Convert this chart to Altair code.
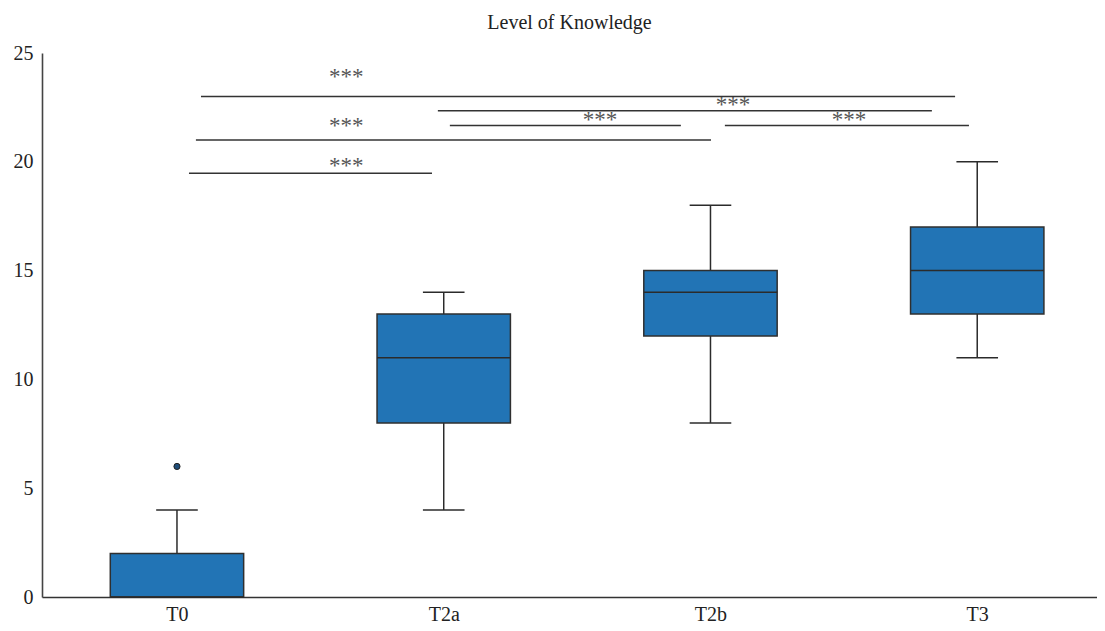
import altair as alt
import pandas as pd

# ---- data ----
groups = ["T0", "T2a", "T2b", "T3"]
lower = [0, 4, 8, 11]
q1 = [0, 8, 12, 13]
median = [0, 11, 14, 15]
q3 = [2, 13, 15, 17]
upper = [4, 14, 18, 20]

outlier_group = [0]
outlier_value = [6]

# significance brackets (x in category units, y in data units)
sig_x1 = [0.09, 0.978, 1.023, 2.054, 0.071, 0.045]
sig_x2 = [2.917, 2.830, 1.889, 2.969, 2.002, 0.956]
sig_y = [23.0, 22.35, 21.67, 21.67, 21.0, 19.47]
star_x = [0.635, 2.084, 1.586, 2.519, 0.635, 0.635]
star_y = [23.99, 22.69, 22.01, 22.01, 21.74, 19.90]
star_label = ["***"] * 6

FONT = "Liberation Serif"
BOX_HALF = 0.25
CAP_HALF = 0.078

idx = list(range(len(groups)))
box_df = pd.DataFrame({
    "g": idx, "name": groups, "lower": lower, "q1": q1, "median": median,
    "q3": q3, "upper": upper,
})
box_df["xl"] = box_df["g"] - BOX_HALF
box_df["xr"] = box_df["g"] + BOX_HALF
box_df["cl"] = box_df["g"] - CAP_HALF
box_df["cr"] = box_df["g"] + CAP_HALF

out_df = pd.DataFrame({"g": outlier_group, "v": outlier_value})
sig_df = pd.DataFrame({"x1": sig_x1, "x2": sig_x2, "y": sig_y})
star_df = pd.DataFrame({"x": star_x, "y": star_y, "t": star_label})

xs = alt.Scale(domain=[-0.506, 3.449], nice=False, zero=False)
ys = alt.Scale(domain=[0, 25], nice=False)
xaxis = alt.Axis(values=idx, labelExpr="['T0','T2a','T2b','T3'][datum.value]",
                 title=None, grid=False, ticks=False, labelPadding=7,
                 labelFont=FONT, labelFontSize=20, labelColor="#222",
                 domainColor="#333", domainWidth=1.6)
yaxis = alt.Axis(values=[0, 5, 10, 15, 20, 25], title=None, grid=False,
                 ticks=False, labelPadding=9, labelFont=FONT, labelFontSize=20,
                 labelColor="#222", domainColor="#444", domainWidth=1.6)


def X(f):
    return alt.X(f, type="quantitative", scale=xs, axis=xaxis)


def Y(f):
    return alt.Y(f, type="quantitative", scale=ys, axis=yaxis)


DARK = "#2b2b2b"
base = alt.Chart(box_df)

whisk_lo = base.mark_rule(color=DARK, strokeWidth=1.5).encode(x=X("g"), y=Y("lower"), y2="q1")
whisk_hi = base.mark_rule(color=DARK, strokeWidth=1.5).encode(x=X("g"), y=Y("q3"), y2="upper")
cap_lo = base.mark_rule(color=DARK, strokeWidth=1.5).encode(x=X("cl"), x2="cr", y=Y("lower"))
cap_hi = base.mark_rule(color=DARK, strokeWidth=1.5).encode(x=X("cl"), x2="cr", y=Y("upper"))
boxes = base.mark_rect(color="#2274b5", stroke="#2f2f2f", strokeWidth=1.5).encode(
    x=X("xl"), x2="xr", y=Y("q1"), y2="q3")
medians = base.mark_rule(color=DARK, strokeWidth=1.5).encode(x=X("xl"), x2="xr", y=Y("median"))
outliers = alt.Chart(out_df).mark_point(
    filled=True, size=38, color="#1f4e79", stroke="#222", strokeWidth=1, opacity=1
).encode(x=X("g"), y=Y("v"))

sig_lines = alt.Chart(sig_df).mark_rule(color="#333", strokeWidth=1.5).encode(
    x=X("x1"), x2="x2", y=Y("y"))
stars = alt.Chart(star_df).mark_text(
    font=FONT, fontSize=23, color="#555", baseline="middle", align="center", dy=2
).encode(x=X("x"), y=Y("y"), text="t:N")

chart = alt.layer(
    whisk_lo, whisk_hi, cap_lo, cap_hi, boxes, medians, outliers, sig_lines, stars
).properties(
    width=1055, height=544,
    autosize=alt.AutoSizeParams(type="none"),
    padding={"left": 34, "top": 45, "right": 0, "bottom": 26},
    background="white",
    title=alt.TitleParams("Level of Knowledge", font=FONT, fontSize=20,
                          fontWeight="normal", color="#222", anchor="middle",
                          offset=10),
).configure_view(stroke=None)

chart.save("out.html", embed_options={"renderer": "svg", "actions": False})
